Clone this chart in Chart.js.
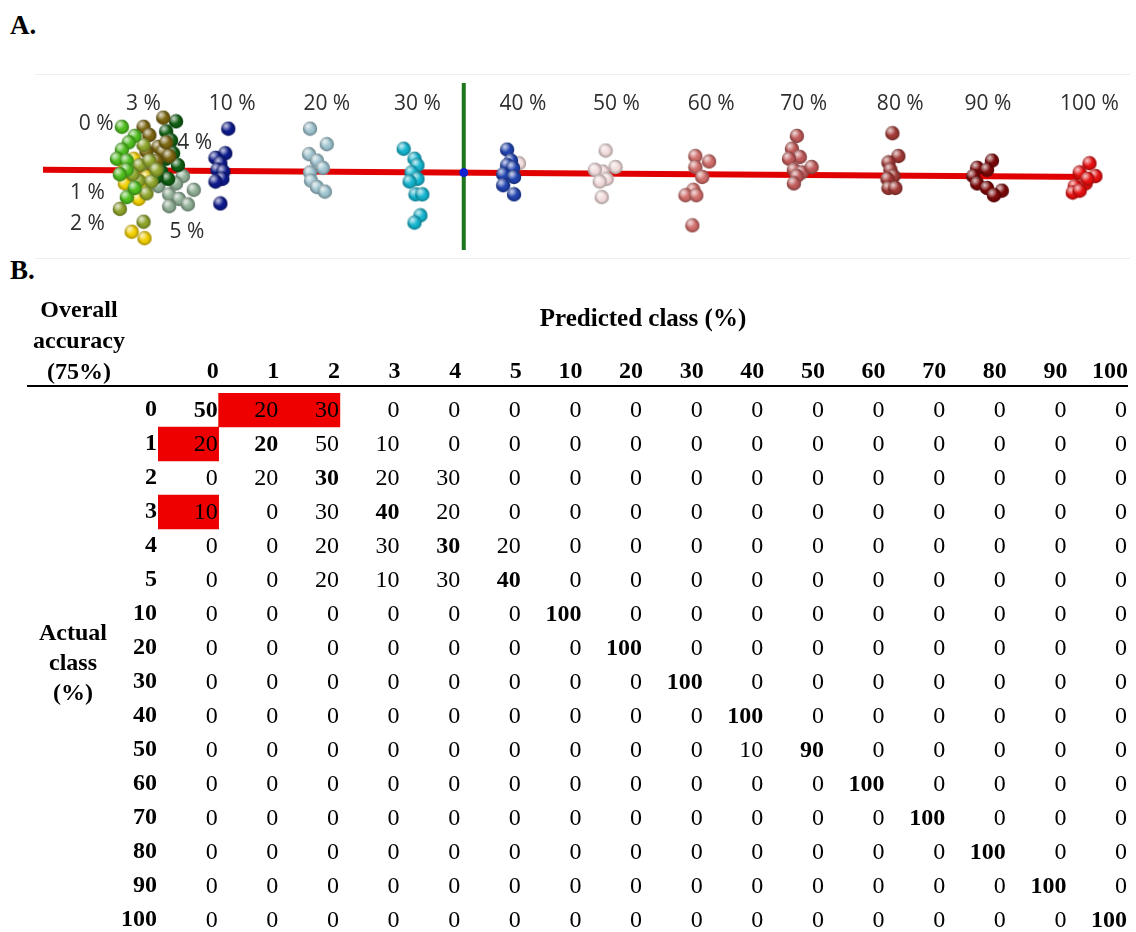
<!DOCTYPE html>
<html>
<head>
<meta charset="utf-8">
<script src="https://cdn.jsdelivr.net/npm/chart.js@4.4.1/dist/chart.umd.min.js"></script>
<style>
    html, body { margin: 0; padding: 0; background: #fff; overflow: hidden; }
    body { width: 1136px; height: 932px; position: relative; font-family: "Liberation Serif", serif; color: #000; }
    .tag { position: absolute; font-weight: bold; font-size: 27px; }
    .side { position: absolute; font-weight: bold; font-size: 24px; text-align: center; }
    #frameA { position: absolute; left: 35px; top: 74px; width: 1095px; height: 183px;
              border-top: 1px solid #eeeeee; border-bottom: 1px solid #eeeeee; }
    #scoresChart { position: absolute; left: 35px; top: 75px; }
    #matrixChart { position: absolute; left: 0; top: 262px; }
</style>
</head>
<body>
<div class="tag" style="left:10px; top:10px;">A.</div>
<div class="tag" style="left:10px; top:255px;">B.</div>
<div id="frameA"></div>
<canvas id="scoresChart" width="1095" height="183"></canvas>
<canvas id="matrixChart" width="1136" height="680"></canvas>
<div class="side" style="left:0; top:294px; width:158px; line-height:31px;">Overall<br>accuracy<br>(75%)</div>
<div class="side" style="left:0; top:617px; width:146px; line-height:30px;">Actual<br>class<br>(%)</div>

<script>
// ---- panel A: projected sample scores (component 1, component 2) ----
const score0 = [[8.0, 4.5], [9.3, 3.5], [8.7, 2.8], [8.0, 2.0], [7.5, 1.0], [8.5, 0.8], [8.5, -0.2], [7.8, -0.7], [8.5, -3.2], [9.3, -2.2]];
const score1 = [[10.2, 2.5], [9.8, 0.3], [10.8, 0.8], [9.7, -1.4], [11.0, -1.5], [7.8, -4.5], [10.2, -5.9], [9.1, -0.7], [11.5, -0.2], [10.5, -2.8]];
const score2 = [[9.2, 1.0], [8.2, 0.6], [8.3, -1.7], [9.8, -2.5], [9.7, -3.4], [9.0, -7.0], [10.3, -7.7], [10.5, -1.0], [9.3, 0.0], [10.1, -1.7]];
const score3 = [[12.2, 5.5], [10.2, 4.5], [10.8, 3.6], [11.7, 2.3], [12.2, 1.8], [11.2, 0.0], [12.5, 2.8], [11.5, 0.8], [12.8, 1.3], [10.5, 1.8]];
const score4 = [[13.5, 5.1], [12.5, 4.0], [13.0, 3.0], [13.2, 1.6], [12.5, 1.0], [10.8, -0.4], [12.0, -0.4], [12.7, -1.2], [11.5, -1.0], [13.7, 0.3]];
const score5 = [[12.8, 2.6], [14.2, -0.9], [12.2, -1.2], [11.7, -2.0], [12.8, -2.9], [13.8, -3.4], [15.3, -2.4], [12.8, -4.2], [14.7, -4.0], [13.5, -1.7]];
const score10 = [[18.8, 4.3], [18.5, 1.6], [17.5, 1.1], [18.0, 0.5], [17.7, -0.2], [18.3, -0.4], [18.2, -1.2], [17.5, -1.5], [18.0, -3.9]];
const score20 = [[27.1, 4.3], [28.8, 2.6], [27.0, 1.5], [27.8, 0.8], [28.4, 0.0], [27.1, -0.5], [27.2, -1.4], [27.8, -2.1], [28.6, -2.6]];
const score30 = [[36.6, 2.1], [37.7, 1.0], [38.0, 0.3], [37.4, -0.5], [38.0, -1.2], [37.2, -1.5], [37.8, -2.9], [38.5, -2.9], [38.3, -5.2], [37.7, -6.0]];
const score40 = [[47.1, 2.0], [47.5, 0.8], [47.1, 0.3], [47.7, 0.0], [46.7, -0.7], [47.8, -1.0], [46.7, -1.9], [47.8, -2.9]];
const score50 = [[48.3, 0.5], [57.1, 1.9], [58.1, 0.1], [56.8, -0.4], [56.0, -0.2], [57.2, -1.2], [56.5, -1.5], [56.7, -3.2]];
const score60 = [[66.2, 1.3], [67.6, 0.7], [66.2, 0.1], [66.9, -1.0], [66.0, -2.4], [65.2, -3.0], [66.3, -3.0], [65.9, -6.3]];
const score70 = [[76.5, 3.5], [76.0, 2.1], [76.8, 1.2], [75.7, 1.0], [76.2, -0.2], [77.0, -0.5], [78.0, 0.1], [76.5, -0.9], [76.2, -1.7]];
const score80 = [[86.2, 3.8], [86.8, 1.3], [85.8, 0.6], [86.0, -0.2], [86.3, -0.9], [85.7, -1.2], [85.8, -2.2], [86.5, -2.2]];
const score90 = [[96.3, 0.8], [94.8, 0.0], [95.8, -0.2], [94.4, -0.9], [94.8, -1.7], [95.8, -2.2], [97.3, -2.5], [96.5, -3.0]];
const score100 = [[106.2, 0.5], [105.2, -0.5], [106.8, -0.9], [105.8, -1.7], [104.7, -2.0], [104.5, -2.7], [105.2, -2.5], [106.0, -1.2]];

const classScores = [score0, score1, score2, score3, score4, score5, score10, score20, score30,
                     score40, score50, score60, score70, score80, score90, score100];
const classNames = ['0 %', '1 %', '2 %', '3 %', '4 %', '5 %', '10 %', '20 %', '30 %',
                    '40 %', '50 %', '60 %', '70 %', '80 %', '90 %', '100 %'];

// trend line, separating axis and their crossing
const trendLine = [[0, -0.2], [107, -1.0]];
const splitLine = [[42.7, 9.3], [42.7, -9.0]];
const crossPoint = [[42.7, -0.52]];

// ---- panel B: confusion matrix (%) ----
const predLabels = ['0', '1', '2', '3', '4', '5', '10', '20', '30', '40', '50', '60', '70', '80', '90', '100'];
const actualLabels = ['0', '1', '2', '3', '4', '5', '10', '20', '30', '40', '50', '60', '70', '80', '90', '100'];
const matrix = [
    [50, 20, 30, 0, 0, 0, 0, 0, 0, 0, 0, 0, 0, 0, 0, 0],
    [20, 20, 50, 10, 0, 0, 0, 0, 0, 0, 0, 0, 0, 0, 0, 0],
    [0, 20, 30, 20, 30, 0, 0, 0, 0, 0, 0, 0, 0, 0, 0, 0],
    [10, 0, 30, 40, 20, 0, 0, 0, 0, 0, 0, 0, 0, 0, 0, 0],
    [0, 0, 20, 30, 30, 20, 0, 0, 0, 0, 0, 0, 0, 0, 0, 0],
    [0, 0, 20, 10, 30, 40, 0, 0, 0, 0, 0, 0, 0, 0, 0, 0],
    [0, 0, 0, 0, 0, 0, 100, 0, 0, 0, 0, 0, 0, 0, 0, 0],
    [0, 0, 0, 0, 0, 0, 0, 100, 0, 0, 0, 0, 0, 0, 0, 0],
    [0, 0, 0, 0, 0, 0, 0, 0, 100, 0, 0, 0, 0, 0, 0, 0],
    [0, 0, 0, 0, 0, 0, 0, 0, 0, 100, 0, 0, 0, 0, 0, 0],
    [0, 0, 0, 0, 0, 0, 0, 0, 0, 10, 90, 0, 0, 0, 0, 0],
    [0, 0, 0, 0, 0, 0, 0, 0, 0, 0, 0, 100, 0, 0, 0, 0],
    [0, 0, 0, 0, 0, 0, 0, 0, 0, 0, 0, 0, 100, 0, 0, 0],
    [0, 0, 0, 0, 0, 0, 0, 0, 0, 0, 0, 0, 0, 100, 0, 0],
    [0, 0, 0, 0, 0, 0, 0, 0, 0, 0, 0, 0, 0, 0, 100, 0],
    [0, 0, 0, 0, 0, 0, 0, 0, 0, 0, 0, 0, 0, 0, 0, 100]
];
// highlighted cells (row, column)
const redCells = [[0, 1], [0, 2], [1, 0], [3, 0]];

document.addEventListener('DOMContentLoaded', function() {
    const sphereColors = ['#4fbe1e', '#8ea52c', '#f2d000', '#7b6510', '#0f5e12', '#8fae95',
                          '#0d1a8c', '#9fc4d0', '#14b5cf', '#2143b0', '#f3dcdc', '#d06e6b',
                          '#c05a5a', '#a33a36', '#7c0808', '#e81010'];

    // little shaded ball used as point style
    function sphere(color) {
        const c = document.createElement('canvas');
        c.width = 16;
        c.height = 16;
        const g = c.getContext('2d');
        g.beginPath();
        g.arc(8, 8, 7.2, 0, Math.PI * 2);
        g.fillStyle = color;
        g.fill();
        const shade = g.createRadialGradient(8, 8, 3.5, 8, 8, 7.5);
        shade.addColorStop(0, 'rgba(0,0,0,0)');
        shade.addColorStop(1, 'rgba(0,0,0,0.35)');
        g.fillStyle = shade;
        g.fill();
        const light = g.createRadialGradient(5.8, 5.2, 0.3, 5.8, 5.2, 5.5);
        light.addColorStop(0, 'rgba(255,255,255,0.75)');
        light.addColorStop(1, 'rgba(255,255,255,0)');
        g.fillStyle = light;
        g.fill();
        return c;
    }

    const toXY = arr => arr.map(([x, y]) => ({x: x, y: y}));

    const pointSets = classScores.map((pts, i) => ({
        type: 'scatter',
        label: classNames[i],
        data: toXY(pts),
        pointStyle: sphere(sphereColors[i]),
        pointRadius: 7,
        order: 2
    }));

    // label anchors in score units
    const labelAnchors = [[5.4, 4.8], [4.5, -2.8], [4.5, -6.2], [10.2, 7.0], [15.4, 2.7], [14.6, -7.0],
                          [19.2, 7.0], [28.8, 7.0], [38.0, 7.0], [48.7, 7.0], [58.2, 7.0], [67.8, 7.0],
                          [77.2, 7.0], [87.0, 7.0], [95.9, 7.0], [106.2, 7.0]];

    const clusterLabels = {
        id: 'clusterLabels',
        afterDatasetsDraw(chart) {
            const {ctx, scales: {x, y}} = chart;
            ctx.save();
            ctx.font = '21px "Open Sans"';
            ctx.fillStyle = '#2e2e2e';
            ctx.textAlign = 'center';
            ctx.textBaseline = 'middle';
            classNames.forEach((t, i) => {
                ctx.fillText(t, x.getPixelForValue(labelAnchors[i][0]), y.getPixelForValue(labelAnchors[i][1]));
            });
            ctx.restore();
        }
    };

    new Chart(document.getElementById('scoresChart').getContext('2d'), {
        type: 'scatter',
        data: {
            datasets: [
                {type: 'line', data: toXY(trendLine), borderColor: '#e00000', borderWidth: 6,
                 pointRadius: 0, order: 5},
                {type: 'line', data: toXY(splitLine), borderColor: '#1c761c', borderWidth: 4,
                 pointRadius: 0, order: 1},
                {type: 'scatter', data: toXY(crossPoint), backgroundColor: '#1020d0', borderWidth: 0,
                 pointRadius: 4.5, order: 0}
            ].concat(pointSets)
        },
        options: {
            responsive: false,
            animation: false,
            layout: {padding: 0},
            scales: {
                x: {type: 'linear', min: 0, max: 109.5, display: false},
                y: {type: 'linear', min: -9.0, max: 9.3, display: false}
            },
            plugins: {legend: {display: false}, tooltip: {enabled: false}}
        },
        plugins: [clusterLabels]
    });

    // floating bars for the red cells
    const redBars = actualLabels.map(() => null);
    redCells.forEach(([r, c]) => {
        if (redBars[r]) {
            redBars[r] = [Math.min(redBars[r][0], c - 1), Math.max(redBars[r][1], c)];
        } else {
            redBars[r] = [c - 1, c];
        }
    });

    const serif = '"Liberation Serif", "Times New Roman", serif';

    const cellText = {
        id: 'cellText',
        afterDatasetsDraw(chart) {
            const {ctx, chartArea, scales: {x, y}} = chart;
            ctx.save();
            ctx.fillStyle = '#000';
            ctx.textAlign = 'right';
            ctx.textBaseline = 'middle';
            matrix.forEach((row, r) => {
                row.forEach((v, c) => {
                    ctx.font = (r === c ? 'bold ' : '') + '24px ' + serif;
                    ctx.fillText(String(v), x.getPixelForValue(c) - 1, y.getPixelForValue(r) + 1);
                });
            });
            // header rule
            ctx.strokeStyle = '#000';
            ctx.lineWidth = 2;
            ctx.beginPath();
            ctx.moveTo(27, chartArea.top - 7);
            ctx.lineTo(chartArea.right, chartArea.top - 7);
            ctx.stroke();
            ctx.restore();
        }
    };

    new Chart(document.getElementById('matrixChart').getContext('2d'), {
        type: 'bar',
        data: {
            labels: actualLabels,
            datasets: [{
                data: redBars,
                backgroundColor: '#ee0000',
                borderWidth: 0,
                barPercentage: 1,
                categoryPercentage: 1
            }]
        },
        options: {
            indexAxis: 'y',
            responsive: false,
            animation: false,
            layout: {padding: {top: 41, left: 118, right: 8, bottom: 5}},
            scales: {
                x: {
                    type: 'linear',
                    position: 'top',
                    min: -1,
                    max: 15,
                    grid: {display: false, drawTicks: false},
                    border: {display: false},
                    afterBuildTicks: axis => { axis.ticks = predLabels.map((l, i) => ({value: i})); },
                    afterFit: axis => { axis.height = 90; axis.paddingLeft = 0; axis.paddingRight = 0; },
                    ticks: {
                        align: 'end',
                        padding: 7,
                        color: '#000',
                        font: {family: serif, size: 24, weight: 'bold'},
                        callback: (value, index) => predLabels[index]
                    },
                    title: {
                        display: true,
                        text: 'Predicted class (%)',
                        color: '#000',
                        font: {family: serif, size: 25, weight: 'bold'},
                        padding: {top: 2, bottom: 0}
                    }
                },
                y: {
                    type: 'category',
                    grid: {display: false, drawTicks: false},
                    border: {display: false},
                    afterFit: axis => { axis.width = 40; axis.paddingTop = 0; axis.paddingBottom = 0; },
                    ticks: {
                        padding: 1,
                        color: '#000',
                        font: {family: serif, size: 24, weight: 'bold'}
                    }
                }
            },
            plugins: {legend: {display: false}, tooltip: {enabled: false}}
        },
        plugins: [cellText]
    });
});
</script>
</body>
</html>
